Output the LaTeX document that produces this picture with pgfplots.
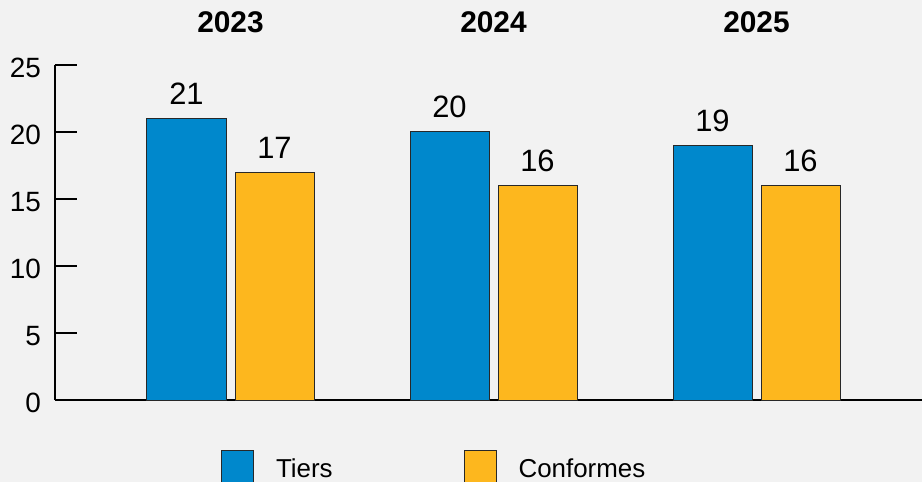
\documentclass[border=0pt]{standalone}
\usepackage{pgfplots}
\pgfplotsset{compat=1.18}
\usepackage{fontspec}
\setmainfont{Liberation Sans}
\definecolor{tiers}{RGB}{0,136,204}
\definecolor{conf}{RGB}{253,183,30}
\definecolor{bg}{RGB}{242,242,242}
\definecolor{edge}{RGB}{40,40,40}
\pgfplotsset{sqlegend/.style={legend image code/.code={\draw[##1] (0bp,-14bp) rectangle (32bp,18bp);}}}
\begin{document}
\begin{tikzpicture}
\fill[bg] (-55bp,-82bp) rectangle (867bp,400bp);
\useasboundingbox (-55bp,-82bp) rectangle (867bp,400bp);
\begin{axis}[
    at={(0,0)}, anchor=south west,
    scale only axis, width=867bp, height=335bp,
    xmin=-0.6673, xmax=2.6293, ymin=0, ymax=25,
    ybar=9bp, bar width=79bp,
    axis x line=bottom, axis y line=left,
    axis line style={-, line width=1.3bp, black},
    xtick=\empty,
    ytick={0,5,...,25},
    tick align=inside, major tick length=22bp,
    ytick style={line width=1.3bp, black},
    yticklabel style={anchor=east, inner sep=0pt, xshift=-14bp, yshift=-3bp},
    tick label style={font=\fontsize{28}{34}\selectfont},
    /pgf/number format/assume math mode=true,
    nodes near coords,
    every node near coord/.append style={font=\fontsize{31}{36}\selectfont, anchor=base, inner sep=0pt, yshift=14bp},
    clip=false,
    legend columns=2,
    legend style={at={(0.19146,-0.14925)}, anchor=north west, draw=none, fill=none,
        inner sep=0pt, outer sep=0pt, font=\fontsize{26}{32}\selectfont,
        nodes={inner sep=0pt},
        /tikz/every odd column/.append style={column sep=22bp},
        /tikz/every even column/.append style={column sep=131bp}},
]
\addplot[fill=tiers, draw=edge, line width=1bp, sqlegend]
    coordinates {(0,21) (1,20) (2,19)};
\addplot[fill=conf, draw=edge, line width=1bp, sqlegend]
    coordinates {(0,17) (1,16) (2,16)};
\legend{Tiers, Conformes}
\node[font=\bfseries\fontsize{30}{36}\selectfont, anchor=base] at (axis cs:0,27.46) {2023};
\node[font=\bfseries\fontsize{30}{36}\selectfont, anchor=base] at (axis cs:1,27.46) {2024};
\node[font=\bfseries\fontsize{30}{36}\selectfont, anchor=base] at (axis cs:2,27.46) {2025};
\end{axis}
\end{tikzpicture}
\end{document}
